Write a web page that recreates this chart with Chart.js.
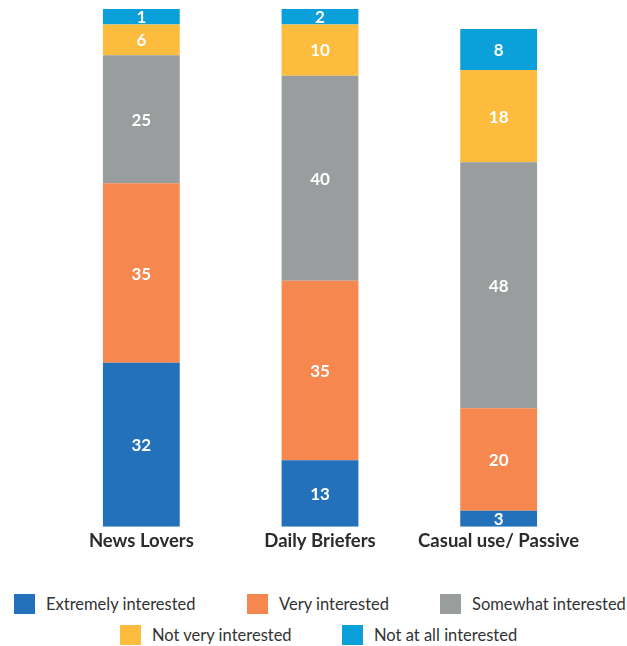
<!DOCTYPE html>
<html>
<head>
<meta charset="utf-8">
<script src="https://cdn.jsdelivr.net/npm/chart.js@4"></script>
<style>
  html, body { margin: 0; padding: 0; background: #fff; }
  #wrap { position: relative; width: 627px; height: 646px; }
  #chart-box { position: absolute; left: 0; top: 0; width: 627px; height: 561px; }
  .legend-row { position: absolute; left: 0; width: 627px; height: 22px; font-family: Lato, "Open Sans", sans-serif; font-size: 16.5px; color: #333; }
  .legend-item { position: absolute; top: 0; height: 20px; line-height: 20px; white-space: nowrap; }
  .legend-item span.sw { position: absolute; left: 0; top: 0; width: 21px; height: 20px; }
  .legend-item span.tx { position: absolute; left: 32px; top: 0; }
</style>
</head>
<body>
<div id="wrap">
  <div id="chart-box"><canvas id="interestChart"></canvas></div>
  <div id="legend"></div>
</div>
<script>
// Categories and series (percent of respondents)
const categories = ['News Lovers', 'Daily Briefers', 'Casual use/ Passive'];
const extremelyInterested = [32, 13, 3];
const veryInterested = [35, 35, 20];
const somewhatInterested = [25, 40, 48];
const notVeryInterested = [6, 10, 18];
const notAtAllInterested = [1, 2, 8];

const seriesNames = ['Extremely interested', 'Very interested', 'Somewhat interested', 'Not very interested', 'Not at all interested'];
const seriesColors = ['#2371bb', '#f6874f', '#9a9d9e', '#fdbc3e', '#0ba0d9'];

// legend placement (row, left x)
const legendSpots = [[0, 14], [0, 247], [0, 440], [1, 120], [1, 342]];

/**
 * Draws the value in the middle of each stacked segment
 */
const segmentLabels = {
  id: 'segmentLabels',
  afterDatasetsDraw(chart) {
    const ctx = chart.ctx;
    ctx.save();
    ctx.fillStyle = '#ffffff';
    ctx.font = 'bold 17px Lato, "Open Sans", sans-serif';
    ctx.textAlign = 'center';
    ctx.textBaseline = 'middle';
    chart.data.datasets.forEach((ds, i) => {
      const meta = chart.getDatasetMeta(i);
      meta.data.forEach((bar, j) => {
        const mid = (bar.y + bar.base) / 2;
        ctx.fillText(String(ds.data[j]), bar.x, mid + 1);
      });
    });
    ctx.restore();
  }
};

const allSeries = [extremelyInterested, veryInterested, somewhatInterested, notVeryInterested, notAtAllInterested];

new Chart(document.getElementById('interestChart'), {
  type: 'bar',
  data: {
    labels: categories,
    datasets: allSeries.map((values, i) => ({
      label: seriesNames[i],
      data: values,
      backgroundColor: seriesColors[i],
      borderWidth: 0,
      minBarLength: 16,
      categoryPercentage: 1,
      barPercentage: 0.43
    }))
  },
  options: {
    responsive: true,
    maintainAspectRatio: false,
    animation: false,
    layout: { padding: { left: 52, right: 39, top: 9, bottom: 6 } },
    plugins: { legend: { display: false }, tooltip: { enabled: false } },
    scales: {
      x: {
        stacked: true,
        grid: { display: false, drawTicks: false },
        border: { display: false },
        ticks: {
          color: '#2b2b2b',
          padding: 3,
          font: { family: 'Lato, "Open Sans", sans-serif', size: 18.5, weight: 'bold' }
        }
      },
      y: {
        stacked: true,
        display: false,
        min: 0,
        max: 101
      }
    }
  },
  plugins: [segmentLabels]
});

// Legend below the chart
const legendEl = document.getElementById('legend');
legendEl.innerHTML = [0, 1].map(row => `
  <div class="legend-row" style="top:${row === 0 ? 594 : 625}px">
    ${legendSpots.map((spot, i) => spot[0] !== row ? '' : `
      <div class="legend-item" style="left:${spot[1]}px">
        <span class="sw" style="background:${seriesColors[i]}"></span>
        <span class="tx">${seriesNames[i]}</span>
      </div>`).join('')}
  </div>`).join('');
</script>
</body>
</html>
